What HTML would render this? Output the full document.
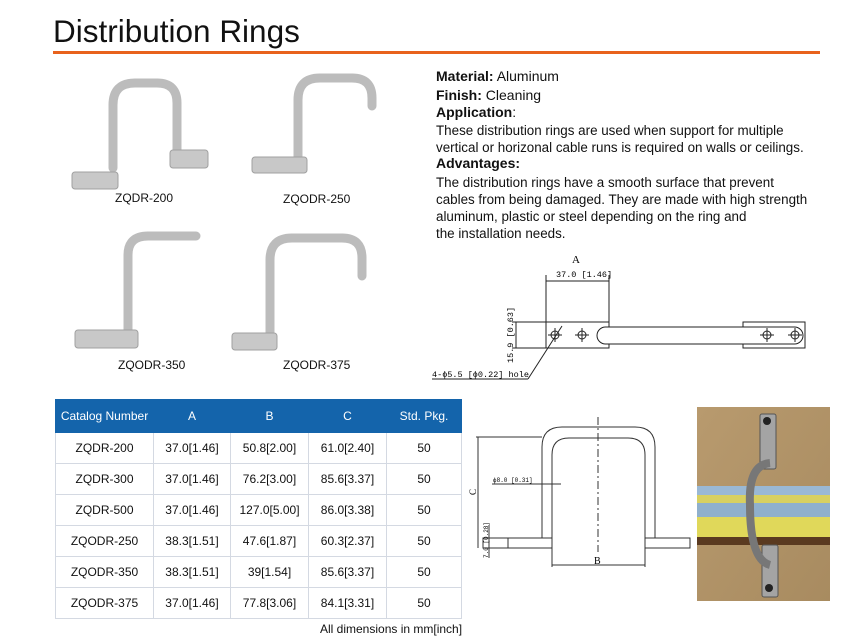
<!DOCTYPE html>
<html><head><meta charset="utf-8"><style>
body{margin:0;width:866px;height:639px;background:#fff;position:relative;overflow:hidden;font-family:"Liberation Sans",sans-serif;color:#111}
.a{position:absolute;white-space:nowrap}
.t{font-size:13.4px;line-height:17px}
.h{font-size:14px;line-height:17px}
table{position:absolute;left:55px;top:399px;border-collapse:collapse;font-size:12px}
td,th{border:1px solid #d4d9e2;text-align:center;height:30px;padding:0}
th{background:#1464ab;color:#fff;font-weight:normal;height:32px;border-color:#1464ab}
</style></head><body>
<div class="a" style="left:53px;top:13px;font-size:31.5px;color:#111">Distribution Rings</div>
<div class="a" style="left:53px;top:51px;width:767px;height:3px;background:#e8621c"></div>

<svg class="a" style="left:0;top:0" width="866" height="639">
<g fill="none" stroke="#bcbcbc" stroke-width="9" stroke-linecap="round">
<path d="M113 168 V105 Q113 83 135 83 H157 Q177 83 177 103 V157"/>
<path d="M298 166 V100 Q298 78 320 78 H352 Q372 78 372 98 V106"/>
<path d="M128 334 V255 Q128 236 148 236 H196"/>
<path d="M270 338 V260 Q270 238 292 238 H342 Q362 238 362 258 V276"/>
</g>
<g fill="#c8c8c8" stroke="#a0a0a0" stroke-width="1">
<rect x="72" y="172" width="46" height="17" rx="3"/>
<rect x="170" y="150" width="38" height="18" rx="3"/>
<rect x="252" y="157" width="55" height="16" rx="3"/>
<rect x="75" y="330" width="63" height="18" rx="3"/>
<rect x="232" y="333" width="45" height="17" rx="3"/>
</g>
<g stroke="#222" stroke-width="1" fill="none">
<line x1="546" y1="281" x2="609" y2="281"/>
<line x1="546" y1="275" x2="546" y2="322"/><line x1="609" y1="275" x2="609" y2="322"/>
<rect x="546" y="322" width="63" height="26"/>
<rect x="743" y="322" width="62" height="26"/>
<rect x="597" y="327" width="206" height="17" rx="8.5" fill="#fff"/>
<line x1="512" y1="322" x2="546" y2="322"/><line x1="512" y1="348" x2="546" y2="348"/>
<line x1="516" y1="322" x2="516" y2="348"/>
<circle cx="555" cy="335" r="4"/><circle cx="582" cy="335" r="4"/><circle cx="767" cy="335" r="4"/><circle cx="795" cy="335" r="4"/>
<path d="M548 335h14M555 328v14M575 335h14M582 328v14M760 335h14M767 328v14M788 335h14M795 328v14"/>
<line x1="432" y1="379" x2="528" y2="379"/><line x1="528" y1="379" x2="562" y2="326"/>
</g>
<text x="572" y="263" font-family="Liberation Serif" font-size="11">A</text>
<text x="556" y="277" font-family="Liberation Mono" font-size="8.5">37.0 [1.46]</text>
<text transform="translate(513 363) rotate(-90)" font-family="Liberation Mono" font-size="8.5">15.9 [0.63]</text>
<text x="432" y="377" font-family="Liberation Mono" font-size="8.5">4-ϕ5.5 [ϕ0.22] hole</text>
<g stroke="#333" stroke-width="1" fill="none">
<path d="M542 538 V447 Q542 427 562 427 H635 Q655 427 655 447 V538"/>
<path d="M552 538 V455 Q552 438 569 438 H628 Q645 438 645 455 V538"/>
<rect x="483" y="538" width="69" height="10"/><line x1="508" y1="538" x2="508" y2="548"/>
<rect x="645" y="538" width="45" height="10"/>
<line x1="598" y1="417" x2="598" y2="552" stroke-dasharray="8 3 2 3"/>
<line x1="552" y1="548" x2="552" y2="567"/><line x1="645" y1="548" x2="645" y2="567"/>
<line x1="552" y1="565" x2="645" y2="565"/>
<line x1="476" y1="437" x2="542" y2="437"/><line x1="478" y1="437" x2="478" y2="548"/>
<line x1="492" y1="484" x2="561" y2="484"/>
<line x1="489" y1="525" x2="489" y2="558"/>
</g>
<text x="594" y="564" font-family="Liberation Serif" font-size="10">B</text>
<text transform="translate(476 495) rotate(-90)" font-family="Liberation Serif" font-size="9">C</text>
<text x="493" y="482" font-family="Liberation Mono" font-size="6">ϕ8.0 [0.31]</text>
<text transform="translate(488 558) rotate(-90)" font-family="Liberation Mono" font-size="6">7.0 [0.28]</text>
<defs><linearGradient id="bg" x1="0" y1="0" x2="1" y2="1"><stop offset="0" stop-color="#b89a6e"/><stop offset="1" stop-color="#a88b60"/></linearGradient></defs>
<rect x="697" y="407" width="133" height="194" fill="url(#bg)"/>
<rect x="697" y="486" width="133" height="17" fill="#9ab8d4"/>
<rect x="697" y="495" width="133" height="8" fill="#d8d060"/>
<rect x="697" y="503" width="133" height="14" fill="#90b0cc"/>
<rect x="697" y="517" width="133" height="20" fill="#e0d85a"/>
<rect x="697" y="537" width="133" height="8" fill="#5a3a20"/>
<rect x="760" y="414" width="16" height="55" rx="2" fill="#a4a4a4" stroke="#555"/>
<rect x="762" y="545" width="16" height="52" rx="2" fill="#a4a4a4" stroke="#555"/>
<circle cx="767" cy="421" r="4" fill="#222"/><circle cx="769" cy="588" r="4" fill="#222"/>
<path d="M770 463 Q748 465 750 505 Q750 560 770 565" fill="none" stroke="#777" stroke-width="8"/>
</svg>

<div class="a h" style="left:436px;top:68px"><b>Material:</b> Aluminum</div>
<div class="a h" style="left:436px;top:87px"><b>Finish:</b> Cleaning</div>
<div class="a h" style="left:436px;top:104px"><b>Application</b>:</div>
<div class="a t" style="left:436px;top:122px">These distribution rings are used when support for multiple</div>
<div class="a t" style="left:436px;top:139px">vertical or horizonal cable runs is required on walls or ceilings.</div>
<div class="a h" style="left:436px;top:155px"><b>Advantages:</b></div>
<div class="a t" style="left:436px;top:174px">The distribution rings have a smooth surface that prevent</div>
<div class="a t" style="left:436px;top:191px">cables from being damaged. They are made with high strength</div>
<div class="a t" style="left:436px;top:208px">aluminum, plastic or steel depending on the ring and</div>
<div class="a t" style="left:436px;top:225px">the installation needs.</div>

<div class="a" style="left:115px;top:191px;font-size:12px">ZQDR-200</div>
<div class="a" style="left:283px;top:192px;font-size:12px">ZQODR-250</div>
<div class="a" style="left:118px;top:358px;font-size:12px">ZQODR-350</div>
<div class="a" style="left:283px;top:358px;font-size:12px">ZQODR-375</div>

<table>
<tr><th style="width:97px">Catalog Number</th><th style="width:76px">A</th><th style="width:77px">B</th><th style="width:77px">C</th><th style="width:74px">Std. Pkg.</th></tr>
<tr><td>ZQDR-200</td><td>37.0[1.46]</td><td>50.8[2.00]</td><td>61.0[2.40]</td><td>50</td></tr>
<tr><td>ZQDR-300</td><td>37.0[1.46]</td><td>76.2[3.00]</td><td>85.6[3.37]</td><td>50</td></tr>
<tr><td>ZQDR-500</td><td>37.0[1.46]</td><td>127.0[5.00]</td><td>86.0[3.38]</td><td>50</td></tr>
<tr><td>ZQODR-250</td><td>38.3[1.51]</td><td>47.6[1.87]</td><td>60.3[2.37]</td><td>50</td></tr>
<tr><td>ZQODR-350</td><td>38.3[1.51]</td><td>39[1.54]</td><td>85.6[3.37]</td><td>50</td></tr>
<tr><td>ZQODR-375</td><td>37.0[1.46]</td><td>77.8[3.06]</td><td>84.1[3.31]</td><td>50</td></tr>
</table>
<div class="a" style="left:320px;top:622px;font-size:12px">All dimensions in mm[inch]</div>
</body></html>
